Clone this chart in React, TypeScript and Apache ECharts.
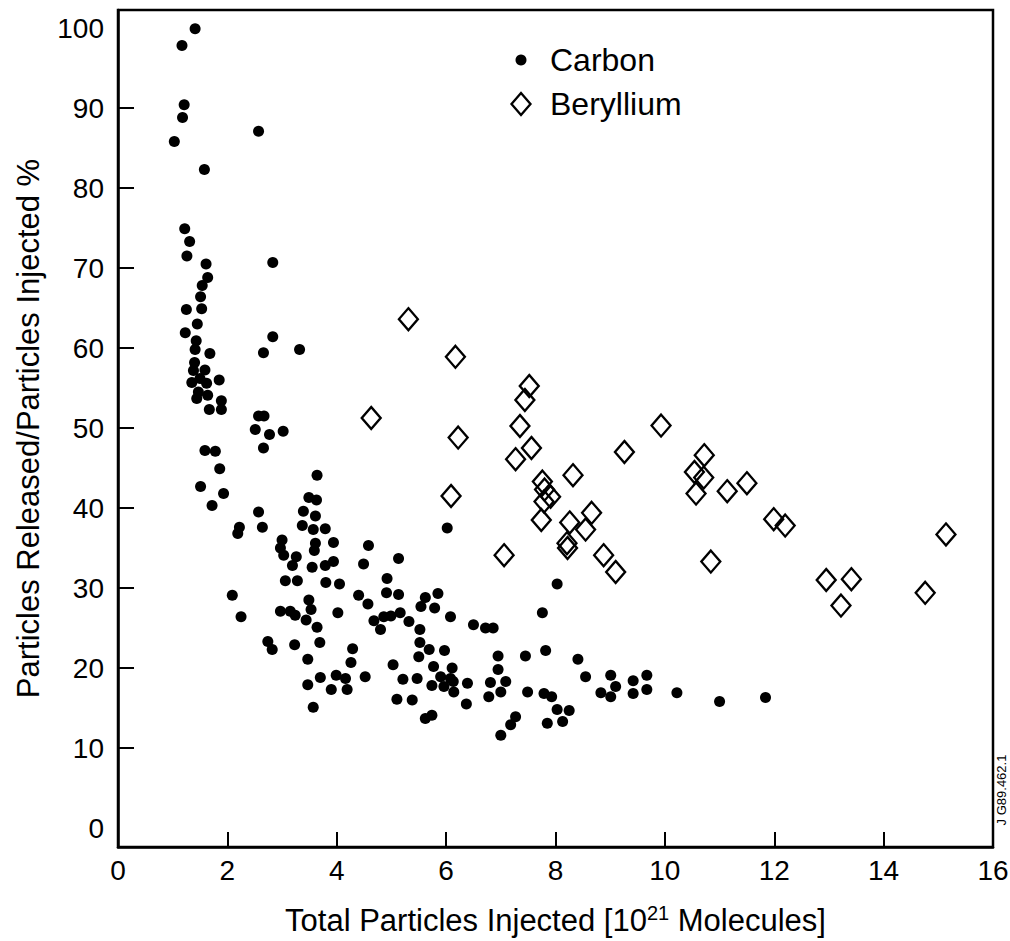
import React, { useEffect, useRef } from "react";
import * as echarts from "echarts";

const carbon: number[][] = [
  [1.41, 99.9], [1.17, 97.8], [1.21, 90.4], [1.18, 88.8], [1.03, 85.8], [2.57, 87.1], [1.58, 82.3],
  [1.22, 74.9], [1.31, 73.3], [1.26, 71.5], [1.61, 70.5], [2.83, 70.7], [1.64, 68.8], [1.54, 67.8],
  [1.51, 66.4], [1.53, 64.9], [1.25, 64.8], [1.45, 63.0], [1.23, 61.9], [2.83, 61.4], [1.43, 60.9],
  [1.41, 59.8], [1.68, 59.3], [2.66, 59.4], [3.32, 59.8], [1.40, 58.2], [1.38, 57.2], [1.59, 57.25],
  [1.50, 56.2], [1.35, 55.7], [1.62, 55.6], [1.85, 56.0], [1.47, 54.5], [1.64, 54.1], [1.44, 53.7],
  [1.89, 53.4], [1.67, 52.3], [1.89, 52.3], [2.57, 51.5], [2.67, 51.5], [2.51, 49.8], [2.77, 49.2],
  [3.02, 49.6], [2.66, 47.5], [1.59, 47.2], [1.78, 47.1], [1.86, 44.9], [3.64, 44.1], [1.51, 42.7],
  [1.93, 41.8], [1.72, 40.3], [3.49, 41.3], [3.63, 41.0], [3.39, 39.6], [3.61, 39.0], [2.57, 39.5],
  [3.37, 37.8], [3.57, 37.3], [3.79, 37.4], [2.64, 37.6], [2.22, 37.6], [2.19, 36.8], [6.02, 37.5],
  [3.00, 36.0], [2.97, 35.0], [3.03, 34.1], [3.61, 35.6], [3.59, 34.7], [3.94, 35.7], [4.58, 35.3],
  [3.26, 33.9], [3.19, 32.8], [3.55, 32.6], [3.79, 32.8], [3.94, 33.3], [5.13, 33.7], [4.49, 33.0],
  [3.06, 30.9], [3.28, 30.9], [3.80, 30.7], [4.05, 30.5], [4.92, 31.2], [8.03, 30.5], [4.91, 29.4],
  [5.13, 29.2], [4.40, 29.1], [4.57, 28.0], [2.09, 29.1], [5.62, 28.8], [5.85, 29.3], [5.54, 27.7],
  [5.79, 27.5], [3.49, 28.5], [3.53, 27.3], [3.44, 26.0], [2.97, 27.1], [3.15, 27.1], [3.24, 26.6],
  [2.25, 26.4], [4.02, 26.9], [5.16, 26.9], [7.76, 26.9], [6.08, 26.4], [4.68, 25.9], [4.86, 26.4],
  [4.99, 26.5], [5.32, 25.8], [4.80, 24.8], [3.64, 25.1], [6.50, 25.4], [6.72, 25.0], [6.86, 25.0],
  [5.52, 24.8], [5.52, 23.2], [2.74, 23.3], [2.82, 22.3], [3.23, 22.9], [3.69, 23.2], [4.29, 22.4],
  [5.69, 22.3], [5.97, 22.2], [7.82, 22.2], [5.50, 21.4], [6.95, 21.5], [7.45, 21.5], [8.41, 21.1],
  [3.47, 21.1], [4.26, 20.7], [5.03, 20.4], [5.77, 20.2], [6.11, 20.0], [6.95, 19.8], [3.99, 19.1],
  [4.52, 18.9], [5.90, 18.9], [8.55, 18.9], [9.01, 19.1], [9.67, 19.1], [3.70, 18.8], [4.16, 18.7],
  [5.21, 18.6], [5.47, 18.7], [6.08, 18.7], [9.42, 18.4], [7.09, 18.3], [6.81, 18.2], [6.13, 18.3],
  [6.39, 18.1], [3.47, 17.9], [5.74, 17.8], [5.96, 17.7], [9.10, 17.7], [4.19, 17.3], [3.90, 17.3],
  [9.67, 17.3], [6.14, 17.0], [7.00, 17.0], [7.49, 17.0], [8.83, 16.9], [10.22, 16.9], [7.79, 16.8],
  [9.42, 16.8], [6.78, 16.4], [7.93, 16.4], [9.01, 16.4], [11.84, 16.3], [5.10, 16.1], [5.38, 16.0],
  [11.0, 15.8], [6.37, 15.5], [3.57, 15.1], [8.03, 14.8], [8.25, 14.7], [5.74, 14.1], [5.62, 13.7],
  [7.27, 13.9], [8.13, 13.3], [7.85, 13.1], [7.18, 12.9], [7.00, 11.6],
];

const beryllium: number[][] = [
  [5.31, 63.6], [6.17, 58.9], [4.63, 51.25], [6.22, 48.8], [6.09, 41.5], [7.52, 55.25], [7.44, 53.5],
  [7.35, 50.25], [7.56, 47.5], [7.27, 46.1], [9.26, 47.0], [9.93, 50.3], [7.76, 43.3], [7.80, 42.3],
  [7.91, 41.4], [7.79, 40.8], [7.74, 38.5], [8.32, 44.1], [8.66, 39.4], [8.26, 38.2], [8.55, 37.3],
  [8.21, 35.6], [8.22, 35.0], [7.06, 34.1], [8.88, 34.1], [9.10, 32.0], [10.72, 46.6], [10.54, 44.5],
  [10.71, 43.8], [10.57, 41.8], [11.14, 42.1], [11.50, 43.1], [11.99, 38.6], [12.20, 37.8],
  [10.84, 33.3], [12.95, 31.0], [13.41, 31.1], [13.22, 27.8], [15.14, 36.7], [14.76, 29.4],
];

const xLabelValues = [0, 2, 4, 6, 8, 10, 12, 14, 16];
const xTickValues = [2, 4, 6, 8, 10, 12, 14];
const yLabelValues = [0, 10, 20, 30, 40, 50, 60, 70, 80, 90, 100];
const yTickValues = [10, 20, 30, 40, 50, 60, 70, 80, 90];

const FONT = "'Liberation Sans', Arial, Helvetica, sans-serif";

export default function App() {
  const ref = useRef<HTMLDivElement>(null);
  useEffect(() => {
    if (!ref.current) return;
    const chart = echarts.init(ref.current, null, { renderer: "svg" });
    chart.setOption({
      animation: false,
      backgroundColor: "#fff",
      textStyle: { fontFamily: FONT, color: "#000" },
      grid: {
        left: 118, right: 17, top: 10, bottom: 94,
        containLabel: false, outerBoundsMode: "none",
        show: true, borderColor: "#000", borderWidth: 2.5, backgroundColor: "transparent",
      },
      xAxis: {
        type: "value", min: 0, max: 16,
        splitLine: { show: false },
        axisLine: { show: true, onZero: false, lineStyle: { color: "#000", width: 2.5 } },
        axisTick: { show: true, inside: true, length: 15, customValues: xTickValues, lineStyle: { color: "#000", width: 2 } },
        axisLabel: { customValues: xLabelValues, fontSize: 28, color: "#000", fontFamily: FONT, margin: 9 },
        name: "Total Particles Injected [10{sup|21} Molecules]",
        nameLocation: "middle",
        nameGap: 56,
        nameTextStyle: {
          fontSize: 31, color: "#000", fontFamily: FONT,
          rich: { sup: { fontSize: 20, color: "#000", fontFamily: FONT, verticalAlign: "bottom", padding: [0, 0, 14, 0] } },
        },
      },
      yAxis: {
        type: "value", min: -2.375, max: 102.25,
        splitLine: { show: false },
        axisLine: { show: true, onZero: false, lineStyle: { color: "#000", width: 2.5 } },
        axisTick: { show: true, inside: true, length: 16, customValues: yTickValues, lineStyle: { color: "#000", width: 2 } },
        axisLabel: { customValues: yLabelValues, fontSize: 28, color: "#000", fontFamily: FONT, margin: 14 },
        name: "Particles Released/Particles Injected %",
        nameLocation: "middle",
        nameGap: 74,
        nameTextStyle: { fontSize: 31, color: "#000", fontFamily: FONT },
      },
      series: [
        {
          name: "Carbon", type: "scatter", data: carbon, symbol: "circle", symbolSize: 11,
          itemStyle: { color: "#000", opacity: 1 },
        },
        {
          name: "Beryllium", type: "scatter", data: beryllium, symbol: "diamond", symbolSize: [19, 22],
          itemStyle: { color: "rgba(0,0,0,0)", borderColor: "#000", borderWidth: 2.3, opacity: 1 },
        },
      ],
      graphic: [
        { type: "circle", shape: { cx: 521, cy: 60, r: 5.5 }, style: { fill: "#000" } },
        { type: "text", x: 550, y: 60, style: { text: "Carbon", fontSize: 32, fontFamily: FONT, fill: "#000", textVerticalAlign: "middle" } },
        { type: "polygon", shape: { points: [[521, 93], [530.5, 104], [521, 115], [511.5, 104]] }, style: { fill: "none", stroke: "#000", lineWidth: 2.3 } },
        { type: "text", x: 550, y: 104, style: { text: "Beryllium", fontSize: 32, fontFamily: FONT, fill: "#000", textVerticalAlign: "middle" } },
        { type: "text", x: 1001, y: 790, rotation: Math.PI / 2, style: { text: "J G89.462.1", fontSize: 13, fontFamily: FONT, fill: "#000", textAlign: "center", textVerticalAlign: "middle" } },
      ],
    });
    return () => chart.dispose();
  }, []);
  return <div ref={ref} style={{ position: "fixed", left: 0, top: 0, width: 1010, height: 941 }} />;
}
